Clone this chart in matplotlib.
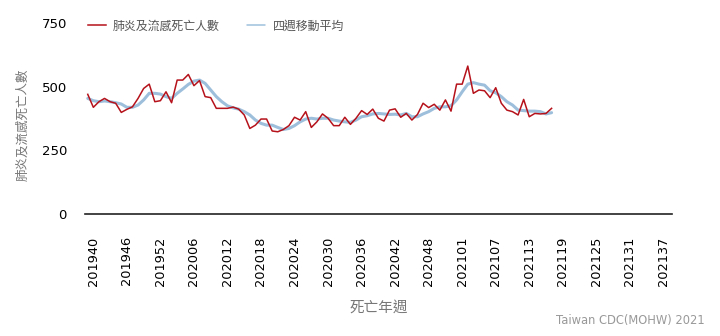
import matplotlib
matplotlib.use("Agg")
import matplotlib.pyplot as plt
import matplotlib.transforms as mtransforms

plt.rcParams['font.family'] = ['DejaVu Sans', 'Noto Sans CJK TC']

# weekly categories: 2019 w40 .. 2021 w39 (2020 has 53 ISO weeks)
weeks = [f"2019{w:02d}" for w in range(40, 53)] + \
        [f"2020{w:02d}" for w in range(1, 54)] + \
        [f"2021{w:02d}" for w in range(1, 40)]

tick_labels = ["201940", "201946", "201952", "202006", "202012", "202018",
               "202024", "202030", "202036", "202042", "202048", "202101",
               "202107", "202113", "202119", "202125", "202131", "202137"]

# 肺炎及流感死亡人數 (201940 .. 202118)
deaths = [470, 419, 441, 454, 441, 435, 399, 411, 421, 454,
          493, 510, 441, 445, 480, 437, 526, 526, 548, 504,
          524, 461, 457, 415, 415, 415, 420, 412, 389, 336,
          349, 373, 373, 326, 323, 332, 347, 380, 369, 402,
          340, 362, 393, 376, 347, 347, 380, 352, 376, 406,
          391, 412, 376, 365, 408, 413, 380, 395, 369, 391,
          435, 418, 431, 408, 448, 404, 510, 510, 581, 474,
          487, 484, 457, 496, 435, 408, 402, 389, 450, 382,
          395, 393, 395, 415]

# 四週移動平均
moving_avg = [454, 445, 441, 444, 441, 437, 432, 419, 419, 428,
              448, 474, 474, 471, 461, 454, 474, 491, 509, 522,
              526, 513, 487, 461, 441, 425, 417, 412, 402, 389,
              369, 356, 349, 349, 340, 332, 336, 347, 362, 373,
              376, 373, 376, 376, 369, 365, 362, 360, 369, 382,
              386, 393, 395, 393, 391, 392, 389, 395, 382, 382,
              393, 402, 415, 421, 421, 425, 448, 480, 510, 516,
              510, 506, 484, 476, 461, 441, 428, 408, 406, 404,
              404, 402, 393, 398]

fig = plt.figure(figsize=(7.2, 3.36), dpi=100)
ax = fig.add_axes([0.118, 0.363, 0.815, 0.5685])

x_d = list(range(len(deaths)))
x_m = list(range(len(moving_avg)))
ax.plot(x_m, moving_avg, color="#8db4d6", lw=2.2, alpha=0.85, label="四週移動平均",
        solid_capstyle="round", zorder=2)
ax.plot(x_d, deaths, color="#b5121b", lw=1.1, label="肺炎及流感死亡人數", zorder=3)

ax.set_xlim(-0.5, len(weeks) - 0.5)
ax.set_ylim(0, 750)
ax.set_yticks([0, 250, 500, 750])
ax.set_xticks([weeks.index(t) for t in tick_labels])
ax.set_xticklabels(tick_labels, rotation=90, fontsize=9.3)
ax.tick_params(axis="y", length=0, pad=13, labelsize=9.5)
ax.tick_params(axis="x", length=0, pad=16)
offset = mtransforms.ScaledTranslation(4 / 72, 0, fig.dpi_scale_trans)
for lab in ax.get_xticklabels():
    lab.set_transform(lab.get_transform() + offset)

for s in ["top", "right", "left"]:
    ax.spines[s].set_visible(False)
ax.spines["bottom"].set_color("#222222")
ax.spines["bottom"].set_linewidth(1.2)

ax.set_xlabel("死亡年週", fontsize=10.5, color="#777777", labelpad=10)
fig.text(0.031, 0.63, "肺炎及流感死亡人數", rotation=90, fontsize=9,
         color="#777777", ha="center", va="center")
fig.text(0.978, 0.045, "Taiwan CDC(MOHW) 2021", fontsize=8.3, color="#999999",
         ha="right", va="center")

handles, labels = ax.get_legend_handles_labels()
leg = fig.legend(handles[::-1], labels[::-1], loc="center left",
                 bbox_to_anchor=(0.1139, 0.9226), ncol=2, frameon=False,
                 borderpad=0, handlelength=1.5, handletextpad=0.6,
                 columnspacing=2.3, fontsize=8.6, labelcolor="#555555")
for h in leg.get_lines():
    h.set_linewidth(1.1)

fig.savefig("out.png", dpi=100)
